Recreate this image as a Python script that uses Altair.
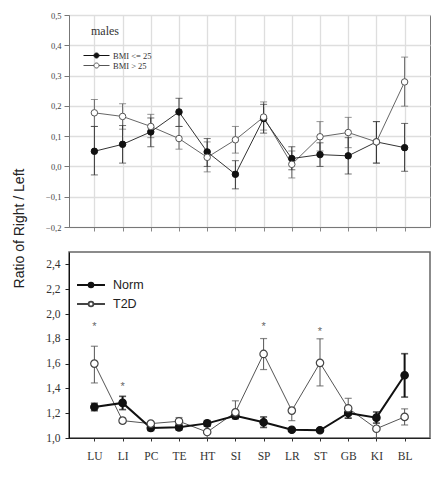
import altair as alt
import pandas as pd

# Organ sites along the x axis
cats = ["LU", "LI", "PC", "TE", "HT", "SI", "SP", "LR", "ST", "GB", "KI", "BL"]

# Upper panel: males, split by BMI
bmi_low_mean = [0.050, 0.073, 0.114, 0.180, 0.048, -0.026, 0.158, 0.026, 0.039, 0.035, 0.081, 0.062]
bmi_low_upper = [0.132, 0.135, 0.160, 0.225, 0.092, 0.019, 0.205, 0.065, 0.078, 0.095, 0.148, 0.142]
bmi_low_lower = [-0.028, 0.011, 0.065, 0.132, 0.000, -0.074, 0.110, -0.011, 0.000, -0.025, 0.011, -0.016]

bmi_high_mean = [0.177, 0.165, 0.132, 0.092, 0.030, 0.088, 0.163, 0.007, 0.098, 0.112, 0.081, 0.279]
bmi_high_upper = [0.221, 0.207, 0.172, 0.132, 0.081, 0.132, 0.213, 0.051, 0.148, 0.162, 0.148, 0.361]
bmi_high_lower = [0.132, 0.123, 0.095, 0.057, -0.018, 0.044, 0.120, -0.038, 0.051, 0.062, 0.011, 0.199]

# Lower panel: normal vs type 2 diabetes
norm_mean = [1.250, 1.283, 1.081, 1.086, 1.118, 1.180, 1.127, 1.067, 1.062, 1.202, 1.164, 1.506]
norm_upper = [1.280, 1.336, 1.100, 1.110, 1.140, 1.205, 1.170, 1.075, 1.070, 1.240, 1.210, 1.680]
norm_lower = [1.220, 1.229, 1.060, 1.065, 1.095, 1.155, 1.085, 1.060, 1.055, 1.160, 1.120, 1.330]

t2d_mean = [1.600, 1.140, 1.116, 1.135, 1.048, 1.207, 1.678, 1.221, 1.606, 1.240, 1.075, 1.170]
t2d_upper = [1.740, 1.160, 1.130, 1.165, 1.100, 1.300, 1.802, 1.240, 1.800, 1.320, 1.150, 1.235]
t2d_lower = [1.444, 1.120, 1.100, 1.105, 1.000, 1.160, 1.552, 1.140, 1.420, 1.160, 1.000, 1.105]

# Significance markers
star_cats = ["LU", "LI", "SP", "ST"]
star_vals = [1.91, 1.43, 1.91, 1.87]

top_groups = ["BMI <= 25", "BMI > 25"]
bottom_groups = ["Norm", "T2D"]


def long_table(groups, means, uppers, lowers):
    rows = []
    for g, m, u, l in zip(groups, means, uppers, lowers):
        for c, mv, uv, lv in zip(cats, m, u, l):
            rows.append({"cat": c, "group": g, "mean": mv, "upper": uv, "lower": lv})
    return pd.DataFrame(rows)


top_df = long_table(top_groups, [bmi_low_mean, bmi_high_mean],
                    [bmi_low_upper, bmi_high_upper], [bmi_low_lower, bmi_high_lower])
bottom_df = long_table(bottom_groups, [norm_mean, t2d_mean],
                       [norm_upper, t2d_upper], [norm_lower, t2d_lower])
star_df = pd.DataFrame({"cat": star_cats, "val": star_vals})

SERIF = "Liberation Serif"
SANS = "Liberation Sans"
comma_fmt = "replace(format(datum.value, '.1f'), '.', ',')"


def line_circle(half, r):
    """Legend symbol path: a horizontal line with a small circle in its middle."""
    return (f"M{-half},0L{-r},0M{r},0L{half},0"
            f"M{r},0A{r},{r},0,1,1,{-r},0A{r},{r},0,1,1,{r},0")


W = 361
x_scale = alt.Scale(type="point", padding=0.9)


def series_layers(base, group, yfn, color, width, cap_width):
    """Error bars with caps and the connecting line for one group."""
    sub = base.transform_filter(alt.datum.group == group)
    err = sub.mark_rule(color=color, strokeWidth=width).encode(y=yfn("lower:Q"), y2="upper:Q")
    cap_hi = sub.mark_tick(color=color, thickness=cap_width, size=7,
                           orient="horizontal").encode(y=yfn("upper:Q"))
    cap_lo = sub.mark_tick(color=color, thickness=cap_width, size=7,
                           orient="horizontal").encode(y=yfn("lower:Q"))
    line = sub.mark_line(color=color, strokeWidth=width).encode(y=yfn("mean:Q"))
    return [err, cap_hi, cap_lo, line]


# ---------- upper panel ----------
x_top_axis = alt.Axis(title=None, labels=False, grid=True, gridColor="#dedede",
                      gridWidth=1.3, ticks=True, tickSize=4, tickColor="#888",
                      domain=True, domainColor="#777")
y_top_scale = alt.Scale(domain=[-0.2, 0.5], nice=False, zero=False)
y_top_axis = alt.Axis(title=None, values=[-0.2, -0.1, 0.0, 0.1, 0.2, 0.3, 0.4, 0.5],
                      labelExpr=comma_fmt, labelFont=SERIF, labelFontSize=8.5,
                      labelColor="#444", grid=True, gridColor="#dedede", gridWidth=1.3,
                      tickSize=5, tickColor="#777", domainColor="#777", labelPadding=3,
                      labelOverlap=False)


def ytop(field):
    return alt.Y(field, scale=y_top_scale, axis=y_top_axis)


top_base = alt.Chart(top_df).encode(x=alt.X("cat:N", sort=cats, scale=x_scale, axis=x_top_axis))

top_legend = alt.Legend(title="males", orient="none", legendX=22, legendY=11,
                        symbolType=line_circle(2.6, 0.5), symbolSize=100,
                        symbolStrokeWidth=1,
                        labelFont=SERIF, labelFontSize=8.5, labelColor="#333",
                        titleFont=SERIF, titleFontSize=12, titleFontWeight="normal",
                        titleColor="#333", titlePadding=12, labelOffset=11, rowPadding=0)
top_pts = top_base.mark_point(shape="circle", size=42, strokeWidth=1, opacity=1,
                              filled=True, fillOpacity=1).encode(
    y=ytop("mean:Q"),
    fill=alt.Fill("group:N", scale=alt.Scale(domain=top_groups, range=["#111", "#ffffff"]),
                  legend=top_legend),
    stroke=alt.Stroke("group:N", scale=alt.Scale(domain=top_groups, range=["#111", "#555"]),
                      legend=top_legend))

top = alt.layer(
    *series_layers(top_base, top_groups[1], ytop, "#666", 1, 1),
    *series_layers(top_base, top_groups[0], ytop, "#333", 1, 1),
    top_pts,
).properties(width=W, height=212, view=alt.ViewBackground(stroke="#777", strokeWidth=1))

# ---------- lower panel ----------
x_bot_axis = alt.Axis(title=None, labelFont=SERIF, labelFontSize=11.5,
                      labelColor="#333", labelPadding=9, grid=False, tickSize=3,
                      tickColor="#333", domainColor="#222", labelAngle=0)
y_bot_scale = alt.Scale(domain=[1.0, 2.5], nice=False, zero=False)
y_bot_axis = alt.Axis(values=[1.0, 1.2, 1.4, 1.6, 1.8, 2.0, 2.2, 2.4], labelExpr=comma_fmt,
                      labelFont=SERIF, labelFontSize=11.5, labelColor="#333", grid=False,
                      tickSize=4, tickColor="#222", domainColor="#111", labelPadding=5,
                      labelOverlap=False,
                      title="Ratio of Right / Left", titleFont=SANS, titleFontSize=14,
                      titleFontWeight="normal", titleColor="#222", titleX=-50, titleY=-24,
                      titleAngle=270, titleAlign="center", titleBaseline="middle")


def xbot():
    return alt.X("cat:N", sort=cats, scale=x_scale, axis=x_bot_axis)


def ybot(field):
    return alt.Y(field, scale=y_bot_scale, axis=y_bot_axis)


bot_base = alt.Chart(bottom_df).encode(x=xbot())

bot_legend = alt.Legend(title=None, orient="none", legendX=15, legendY=26,
                        symbolType=line_circle(2.33, 0.4), symbolSize=144,
                        symbolStrokeWidth=1.8,
                        labelFont=SANS, labelFontSize=12.5, labelColor="#222",
                        labelOffset=15, rowPadding=5)
bot_pts = bot_base.mark_point(shape="circle", size=55, strokeWidth=1.2, opacity=1,
                              filled=True, fillOpacity=1).encode(
    y=ybot("mean:Q"),
    fill=alt.Fill("group:N", scale=alt.Scale(domain=bottom_groups, range=["#111", "#ffffff"]),
                  legend=bot_legend),
    stroke=alt.Stroke("group:N", scale=alt.Scale(domain=bottom_groups, range=["#111", "#444"]),
                      legend=bot_legend))
stars = alt.Chart(star_df).mark_text(text="*", fontSize=11, color="#666", font=SANS,
                                     baseline="middle", dy=2).encode(
    x=xbot(), y=ybot("val:Q"))

bottom = alt.layer(
    *series_layers(bot_base, bottom_groups[1], ybot, "#555", 1, 1.2),
    *series_layers(bot_base, bottom_groups[0], ybot, "#111", 2, 1.6),
    bot_pts,
    stars,
).properties(width=W, height=186, view=alt.ViewBackground(stroke="#666", strokeWidth=1.5))

chart = alt.vconcat(top, bottom, spacing=25, bounds="flush").resolve_scale(
    x="independent", y="independent", fill="independent", stroke="independent"
).properties(
    padding={"left": 11, "top": 10, "right": 4, "bottom": 4},
    background="white",
)

chart.save("out.html", embed_options={"renderer": "svg", "actions": False})
